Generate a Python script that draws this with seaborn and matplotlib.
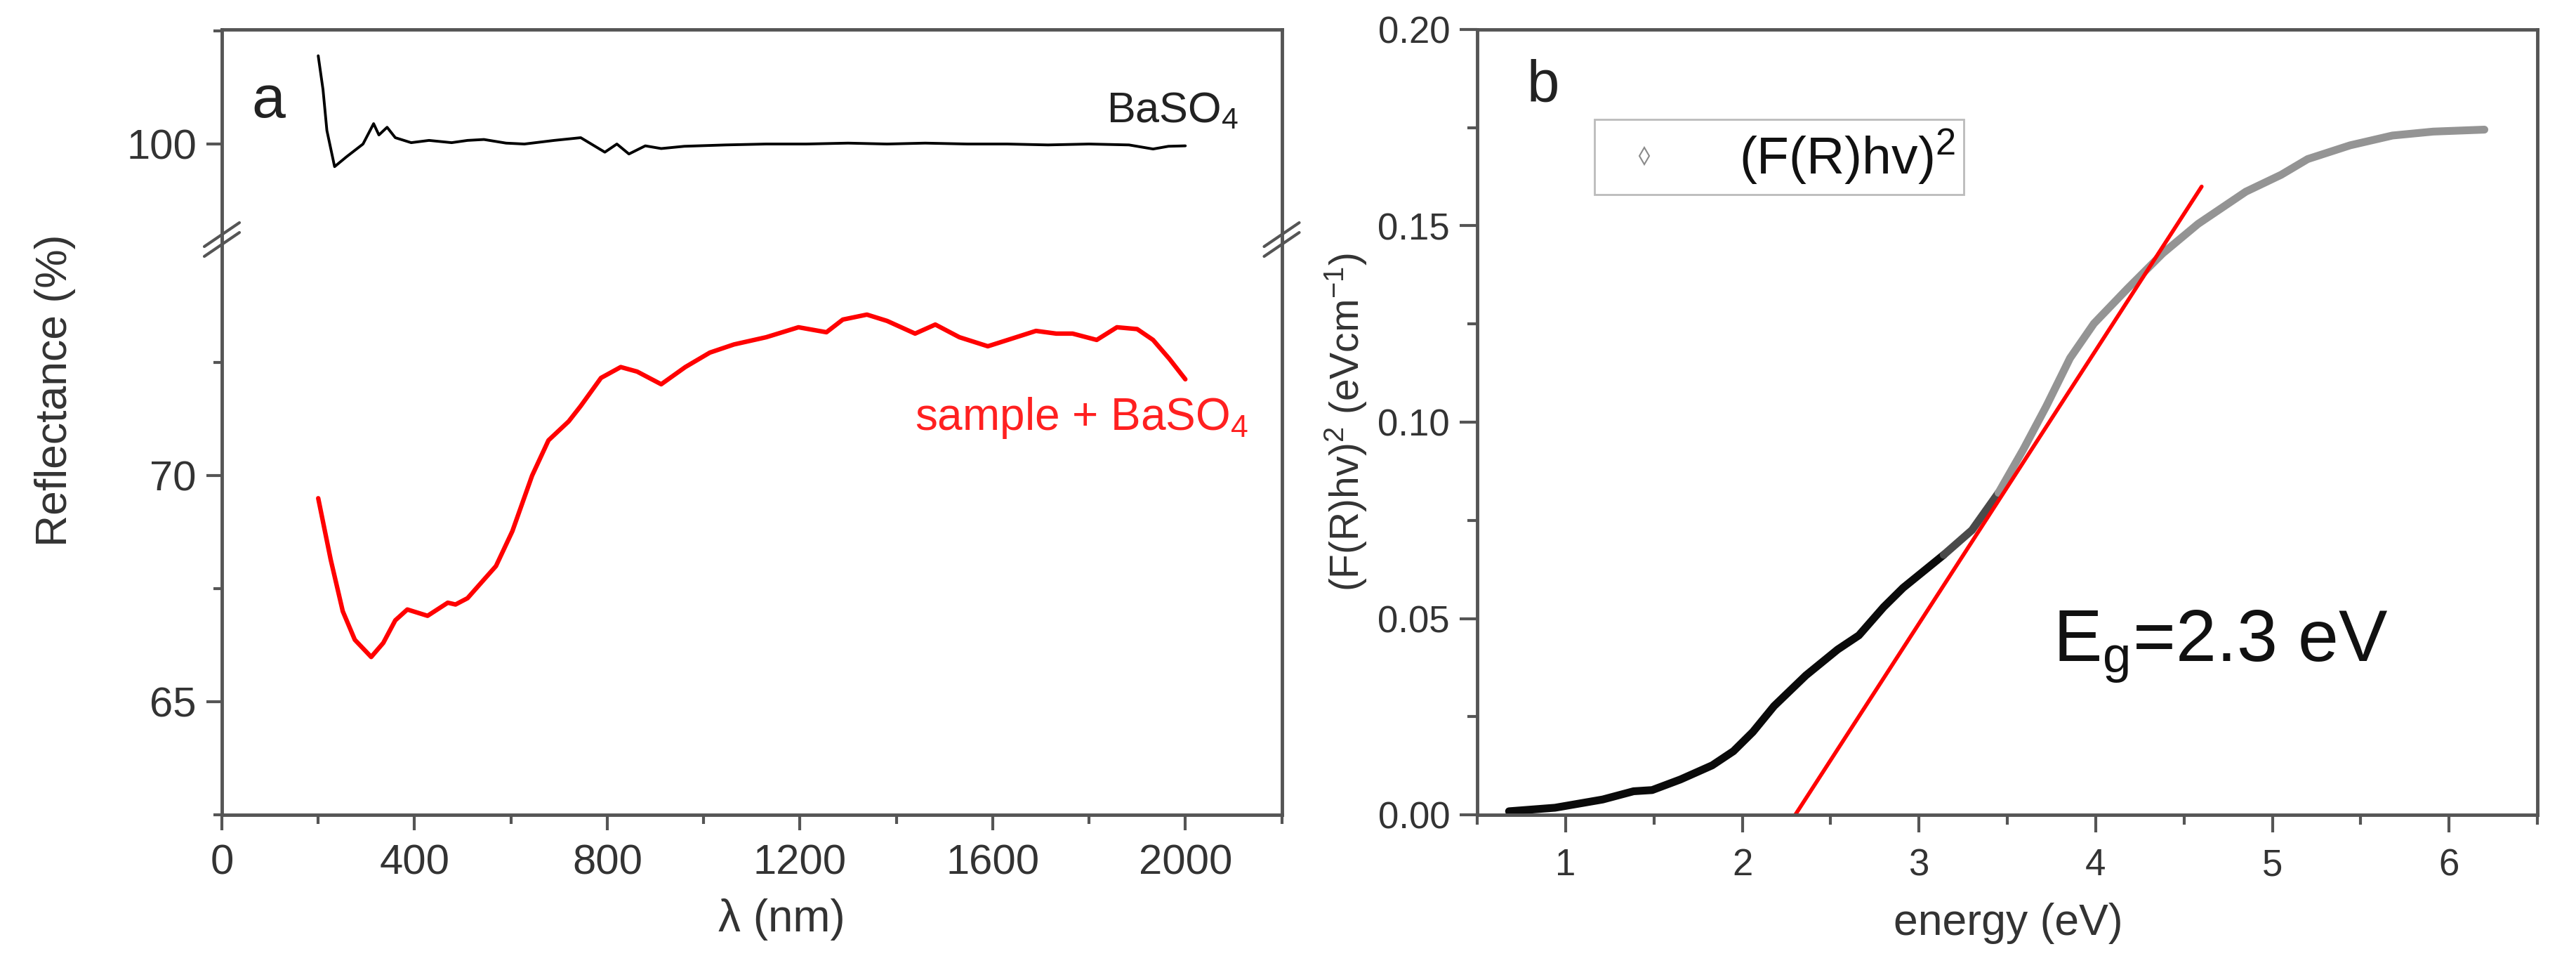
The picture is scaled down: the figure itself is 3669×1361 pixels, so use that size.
import numpy as np
import pandas as pd
import matplotlib
matplotlib.use("Agg")
import matplotlib.pyplot as plt
from matplotlib.lines import Line2D
from matplotlib.ticker import MultipleLocator, FixedLocator
import seaborn as sns

# ---------------- data ----------------
wavelength_baso4 = [200, 210, 218, 234, 259, 293, 315, 326, 343, 360, 393, 430, 477, 510,
                    544, 590, 628, 690, 745, 770, 795, 820, 845, 879, 912, 960, 1046, 1130,
                    1213, 1300, 1381, 1460, 1548, 1630, 1715, 1800, 1883, 1933, 1965, 2000]
reflect_baso4 = [101.95, 101.2, 100.3, 99.5, 99.72, 100.0, 100.45, 100.2, 100.37, 100.14,
                 100.03, 100.08, 100.03, 100.08, 100.1, 100.02, 100.0, 100.08, 100.14, 99.98,
                 99.82, 100.0, 99.78, 99.96, 99.9, 99.95, 99.98, 100.0, 100.0, 100.02, 100.0,
                 100.02, 100.0, 100.0, 99.98, 100.0, 99.98, 99.89, 99.95, 99.96]

wavelength_sample = [200, 226, 251, 276, 310, 335, 360, 385, 427, 469, 485, 510, 544, 569,
                     603, 644, 678, 720, 745, 787, 828, 862, 912, 962, 1013, 1063, 1130, 1197,
                     1255, 1289, 1339, 1381, 1439, 1481, 1531, 1590, 1649, 1690, 1732, 1766,
                     1816, 1858, 1900, 1933, 1967, 2000]
reflect_sample = [69.5, 68.14, 67.0, 66.37, 65.99, 66.3, 66.8, 67.04, 66.9, 67.19, 67.15,
                  67.29, 67.7, 68.0, 68.77, 70.0, 70.78, 71.2, 71.54, 72.16, 72.4, 72.3,
                  72.02, 72.4, 72.72, 72.9, 73.06, 73.28, 73.17, 73.45, 73.56, 73.42, 73.14,
                  73.34, 73.06, 72.86, 73.06, 73.2, 73.14, 73.14, 73.0, 73.28, 73.24, 73.0,
                  72.58, 72.13]

energy = [0.68, 0.94, 1.21, 1.385, 1.49, 1.65, 1.83, 1.95, 2.06, 2.18, 2.36, 2.54, 2.66,
          2.80, 2.91, 3.14, 3.30, 3.45, 3.59, 3.72, 3.855, 3.99, 4.18, 4.38, 4.58, 4.85,
          5.05, 5.2, 5.44, 5.68, 5.91, 6.2]
frhv2 = [0.0009, 0.0018, 0.0039, 0.0060, 0.0063, 0.0090, 0.0126, 0.0162, 0.0211, 0.0277,
         0.0355, 0.0421, 0.0457, 0.0529, 0.0578, 0.0662, 0.0725, 0.0820, 0.0930, 0.1040,
         0.1163, 0.1251, 0.1340, 0.1430, 0.1505, 0.1587, 0.1630, 0.1670, 0.1705, 0.1730,
         0.1740, 0.1745]

fit_energy = [2.3, 4.6]
fit_value = [0.0, 0.16]

# ---------------- style ----------------
sns.set_style("ticks")
plt.rcParams["font.family"] = ["Liberation Sans", "DejaVu Sans"]
plt.rcParams["mathtext.fontset"] = "custom"
plt.rcParams["mathtext.rm"] = "Liberation Sans"
plt.rcParams["mathtext.it"] = "Liberation Sans:italic"
plt.rcParams["mathtext.bf"] = "Liberation Sans:bold"

SP = "#555555"
W, H = 3669, 1361
fig = plt.figure(figsize=(W / 100, H / 100), dpi=100)

def fx(px):
    return px / W

def fy(py):
    return 1 - py / H

L_a, R_a = 316, 1825.5
T, B, BRK = 42, 1160, 341
ax_up = fig.add_axes([fx(L_a), fy(BRK), fx(R_a - L_a), (BRK - T) / H])
ax_lo = fig.add_axes([fx(L_a), fy(B), fx(R_a - L_a), (B - BRK) / H])
L_b, R_b = 2104, 3614
ax_b = fig.add_axes([fx(L_b), fy(B), fx(R_b - L_b), (B - T) / H])

df_baso4 = pd.DataFrame({"wl": wavelength_baso4, "R": reflect_baso4})
df_sample = pd.DataFrame({"wl": wavelength_sample, "R": reflect_sample})

for ax in (ax_up, ax_lo):
    sns.lineplot(data=df_baso4, x="wl", y="R", ax=ax, color="black", linewidth=2.8,
                 sort=False, estimator=None)
    sns.lineplot(data=df_sample, x="wl", y="R", ax=ax, color="#ff0000", linewidth=4.6,
                 sort=False, estimator=None)
    ax.set_xlim(0, 2200)
    ax.set_xlabel("")
    ax.set_ylabel("")
    for s in ax.spines.values():
        s.set_color(SP)
        s.set_linewidth(3.5)
    ax.tick_params(axis="both", which="major", direction="out", length=16, width=3,
                   color=SP, labelsize=43, pad=10, labelcolor="#333333")
    ax.tick_params(axis="both", which="minor", direction="out", length=9, width=3,
                   color=SP)

ax_up.set_ylim(97.89, 102.53)
ax_lo.set_ylim(62.5, 75.22)
ax_up.yaxis.set_major_locator(FixedLocator([100]))
ax_up.yaxis.set_minor_locator(FixedLocator([102.5]))
ax_lo.yaxis.set_major_locator(FixedLocator([65, 70]))
ax_lo.yaxis.set_minor_locator(FixedLocator([62.5, 67.5, 72.5]))
ax_up.spines["bottom"].set_visible(False)
ax_lo.spines["top"].set_visible(False)
ax_up.tick_params(axis="x", which="both", bottom=False, labelbottom=False)
ax_lo.xaxis.set_major_locator(MultipleLocator(400))
ax_lo.xaxis.set_minor_locator(MultipleLocator(200))
ax_lo.tick_params(axis="x", which="major", pad=14)

ax_lo.set_xlabel("λ (nm)", fontsize=46, color="#333333")
ax_lo.xaxis.set_label_coords(0.528, -0.145)
ax_lo.xaxis.label.set_va("top")
ax_lo.set_ylabel("Reflectance (%)", fontsize=45, color="#333333")
ax_lo.yaxis.set_label_coords(-0.138, 0.7375)

ax_up.text(fx(1764), fy(174), "BaSO$_4$", transform=fig.transFigure, fontsize=44,
           ha="right", va="baseline", color="#222222")
ax_lo.text(fx(1778), fy(612), "sample + BaSO$_4$", transform=fig.transFigure, fontsize=46,
           ha="right", va="baseline", color="#ff2020")
fig.text(fx(358), fy(167), "a", fontsize=62, ha="left", va="baseline", color="#222222")

# break marks
for xs in (L_a, R_a):
    for dy in (-7, 7):
        fig.add_artist(Line2D([fx(xs - 25), fx(xs + 25)],
                              [fy(BRK + dy + 17), fy(BRK + dy - 17)],
                              color=SP, linewidth=3, transform=fig.transFigure))

# ---------------- panel b ----------------
n = len(energy)
i1 = energy.index(3.14)
i2 = energy.index(3.45)
seg = (["low"] * (i1 + 1)) + (["mid"] * (i2 - i1 + 1)) + (["high"] * (n - i2))
e_seg = energy[: i1 + 1] + energy[i1: i2 + 1] + energy[i2:]
v_seg = frhv2[: i1 + 1] + frhv2[i1: i2 + 1] + frhv2[i2:]
df_b = pd.DataFrame({"energy": e_seg, "F": v_seg, "seg": seg})
sns.lineplot(data=df_b, x="energy", y="F", hue="seg", ax=ax_b,
             palette={"low": "#0a0a0a", "mid": "#4a4a4a", "high": "#949494"},
             linewidth=8, legend=False, estimator=None)
df_fit = pd.DataFrame({"energy": fit_energy, "F": fit_value})
sns.lineplot(data=df_fit, x="energy", y="F", ax=ax_b, color="#ff0000", linewidth=4.0)

ax_b.set_xlim(0.5, 6.5)
ax_b.set_ylim(0, 0.2)
ax_b.xaxis.set_major_locator(MultipleLocator(1))
ax_b.xaxis.set_minor_locator(MultipleLocator(0.5))
ax_b.yaxis.set_major_locator(MultipleLocator(0.05))
ax_b.yaxis.set_minor_locator(MultipleLocator(0.025))
ax_b.yaxis.set_major_formatter(matplotlib.ticker.FormatStrFormatter("%.2f"))
for s in ax_b.spines.values():
    s.set_color(SP)
    s.set_linewidth(3.5)
ax_b.tick_params(axis="both", which="major", direction="out", length=18, width=3,
                 color=SP, labelsize=38, pad=10, labelcolor="#333333")
ax_b.tick_params(axis="both", which="minor", direction="out", length=10, width=3, color=SP)
ax_b.tick_params(axis="x", which="major", pad=16)
ax_b.set_xlabel("energy (eV)", fontsize=45, color="#333333")
ax_b.xaxis.set_label_coords(0.501, -0.112)
ax_b.xaxis.label.set_va("top")
ax_b.set_ylabel("(F(R)hv)$^2$ (eVcm$^{-1}$)", fontsize=41, color="#333333")
ax_b.yaxis.set_label_coords(-0.102, 0.5)

ax_b.text(3.76, 0.039, "E$_\\mathregular{g}$=2.3 eV", fontsize=75, ha="left", va="baseline",
          color="#111111")
fig.text(fx(2175), fy(145), "b", fontsize=60, ha="left", va="baseline", color="#222222")

handle = Line2D([], [], marker="d", markerfacecolor="none", markeredgecolor="#8a8a8a",
                markeredgewidth=1.5, markersize=12, linestyle="none")
leg = ax_b.legend([handle], ["(F(R)hv)$^2$"], loc="upper left",
                  bbox_to_anchor=((2271 - L_b) / (R_b - L_b), (B - 170) / (B - T)),
                  borderaxespad=0, fontsize=54, frameon=True, fancybox=False,
                  borderpad=0.15, handlelength=1.6, handletextpad=1.0)
leg.get_frame().set_edgecolor("#aaaaaa")
leg.get_frame().set_linewidth(2)
for t in leg.get_texts():
    t.set_color("#111111")

fig.savefig("out.png", dpi=100, facecolor="white")
